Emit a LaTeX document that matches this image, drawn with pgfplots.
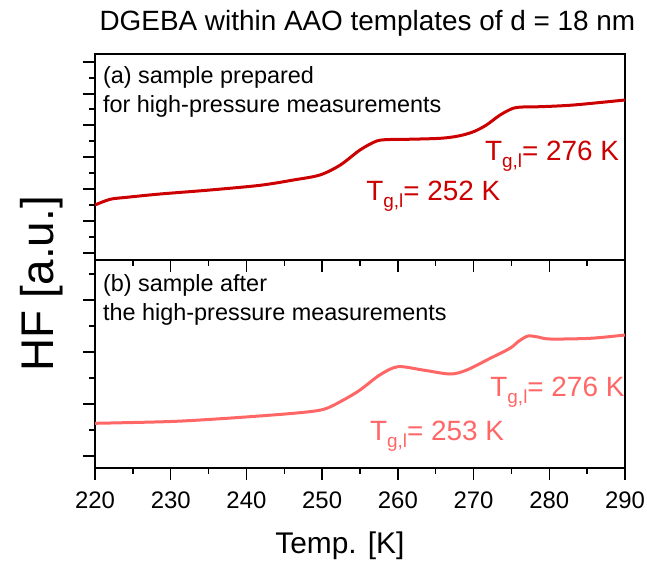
\documentclass[border=0pt]{standalone}
\usepackage{fontspec}
\setmainfont{Liberation Sans}
\usepackage{pgfplots}
\pgfplotsset{compat=1.18}
\definecolor{dred}{RGB}{204,0,0}
\definecolor{lred}{RGB}{255,102,102}
\newcommand{\Tgl}{T\raisebox{-7bp}{\fontsize{19}{19}\selectfont g,l}}
\pgfplotstableread{
T y
220 55
222 60.7
224.2 62.7
228.6 66
235.2 70
241.8 74.7
246.2 80
249.7 85
252.4 95
255 110
257.2 119
259 120.5
261.2 120.7
265.6 121.7
268 124
270 128.3
271.7 135
273.5 145
275.2 151.7
276.5 153
278.8 153.3
283.2 155
290 160
}\toptable
\pgfplotstableread{
T y
220 44.7
230 46.5
237.4 49.7
246.2 54.7
250.2 58.7
252.8 68
255 78
257.6 93
260 101.3
263.3 98
266.9 94
269.1 98
272.2 109.7
274.8 119.7
276 127
277.2 132
278.5 131
280.1 129
285.4 129.7
290 133
}\bottable
\begin{document}
\begin{tikzpicture}
\useasboundingbox (0bp,0bp) rectangle (647bp,-565bp);
\pgfplotsset{
  every axis/.append style={
    scale only axis, width=530bp, xmin=220, xmax=290,
    axis line style={line width=1.8bp},
    tick style={line width=1.5bp, black},
    tick align=outside,
    major tick length=12bp, minor tick length=6bp,
    xtick pos=bottom, ytick pos=left,
    xtick={220,230,...,290}, minor xtick={225,235,...,285},
    yticklabels={},
    /pgf/number format/assume math mode=true,
    /pgf/number format/1000 sep={},
    tick label style={font=\fontsize{24}{26}\selectfont},
  }
}
\begin{axis}[
  at={(95bp,-260bp)}, anchor=south west, height=206bp,
  ymin=0, ymax=206,
  ytick={7,39,71,103,135,166,198},
  minor ytick={23,55,87,119,151,182},
  xticklabels={},
  title={DGEBA within AAO templates of d = 18 nm},
  title style={font=\fontsize{28}{32}\selectfont, anchor=base, at={(axis description cs:0.514,1.085)}},
  ylabel={HF [a.u.]},
  ylabel style={font=\fontsize{46}{50}\selectfont, anchor=base, at={(axis description cs:-0.079,-0.1165)}},
]
\addplot[dred, line width=3bp, smooth] table[x=T, y=y] {\toptable};
\node[anchor=base west, inner sep=0pt, font=\fontsize{23.5}{26}\selectfont] at (axis description cs:0.015,0.859) {(a) sample prepared};
\node[anchor=base west, inner sep=0pt, font=\fontsize{23.5}{26}\selectfont] at (axis description cs:0.015,0.718) {for high-pressure measurements};
\node[anchor=base west, inner sep=0pt, font=\fontsize{28}{30}\selectfont, text=dred] at (axis cs:271.5,100) {\Tgl= 276 K};
\node[anchor=base west, inner sep=0pt, font=\fontsize{28}{30}\selectfont, text=dred] at (axis cs:255.8,60) {\Tgl= 252 K};
\end{axis}
\begin{axis}[
  at={(95bp,-468bp)}, anchor=south west, height=208bp,
  ymin=0, ymax=208,
  ytick={12,64,116,168},
  minor ytick={38,90,142,194},
  xlabel={Temp. [K]},
  xlabel style={font=\fontsize{30}{32}\selectfont, anchor=base, at={(axis description cs:0.462,-0.409)}},
  xticklabel style={anchor=base, inner sep=0pt, yshift=-28bp},
]
\addplot[lred, line width=3bp, smooth] table[x=T, y=y] {\bottable};
\node[anchor=base west, inner sep=0pt, font=\fontsize{23.5}{26}\selectfont] at (axis description cs:0.015,0.848) {(b) sample after};
\node[anchor=base west, inner sep=0pt, font=\fontsize{23.5}{26}\selectfont] at (axis description cs:0.015,0.7115) {the high-pressure measurements};
\node[anchor=base west, inner sep=0pt, font=\fontsize{28}{30}\selectfont, text=lred] at (axis cs:272.2,71.3) {\Tgl= 276 K};
\node[anchor=base west, inner sep=0pt, font=\fontsize{28}{30}\selectfont, text=lred] at (axis cs:256.3,28) {\Tgl= 253 K};
\end{axis}
\end{tikzpicture}
\end{document}
